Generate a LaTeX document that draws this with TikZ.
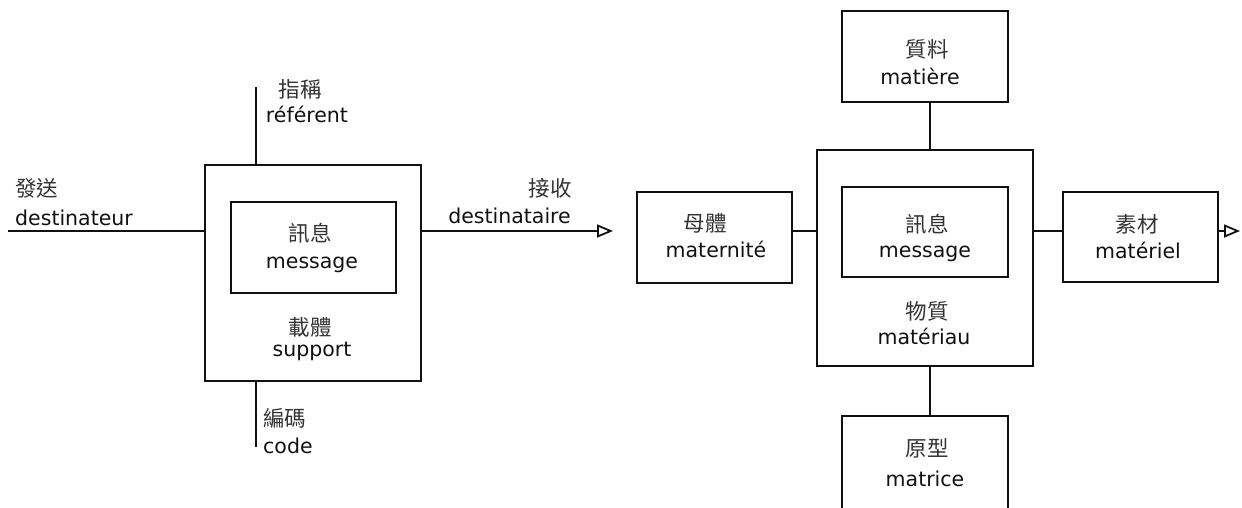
\documentclass[tikz,border=0pt]{standalone}
\usepackage{fontspec}
\setmainfont{DejaVu Sans}
\newfontfamily\cjk{Noto Sans CJK TC}
\usetikzlibrary{arrows.meta}
\definecolor{ink}{HTML}{111111}
\definecolor{cjkink}{HTML}{333333}
\tikzset{
  box/.style={draw=ink, line width=2.1pt, inner sep=0pt},
  conn/.style={draw=ink, line width=2.1pt},
  arr/.style={conn, -{Triangle[open, length=16pt, width=13pt, fill=white, line width=1.8pt]}},
  zh/.style={inner sep=0pt, font=\cjk\fontsize{21.5}{24}\selectfont, text=cjkink},
  fr/.style={inner sep=0pt, font=\fontsize{20.5}{24}\selectfont, text=ink, anchor=base},
}
\begin{document}
\begin{tikzpicture}[x=1pt,y=-1pt]
\useasboundingbox (0,0) rectangle (1242,508);
% boxes
\node[box, minimum width=216pt, minimum height=216pt] (support) at (313,273) {};
\node[box, minimum width=165pt, minimum height=91pt] (msg1) at (313.5,247.5) {};
\node[box, minimum width=155pt, minimum height=91pt] (maternite) at (714.5,237.5) {};
\node[box, minimum width=216pt, minimum height=216pt] (materiau) at (925,258) {};
\node[box, minimum width=166pt, minimum height=90pt] (msg2) at (925,232) {};
\node[box, minimum width=166pt, minimum height=91pt] (matiere) at (925,56.5) {};
\node[inner sep=0pt, minimum width=166pt, minimum height=110pt] (matrice) at (925,471) {};
\draw[conn] (matrice.south west) -- (matrice.north west) -- (matrice.north east) -- (matrice.south east);
\node[box, minimum width=155pt, minimum height=90pt] (materiel) at (1140.5,237) {};
% coordinates
\coordinate (src) at (8,231);
\coordinate (dst) at (613,231);
\coordinate (reftop) at (256,87);
\coordinate (codebot) at (256,447);
\coordinate (vx) at (930,0);
\coordinate (out2) at (1240,231);
% connectors
\draw[conn] (src) -- (src -| support.west);
\draw[arr] (src -| support.east) -- (dst);
\draw[conn] (reftop) -- (reftop |- support.north);
\draw[conn] (codebot) -- (codebot |- support.south);
\draw[conn] (maternite.east |- src) -- (materiau.west |- src);
\draw[conn] (materiau.east |- src) -- (materiel.west |- src);
\draw[arr] (materiel.east |- src) -- (out2);
\draw[conn] (matiere.south -| vx) -- (materiau.north -| vx);
\draw[conn] (materiau.south -| vx) -- (matrice.north -| vx);
% labels
\node[zh, anchor=west] (l1a) at (15,188) {發送};
\node[fr, anchor=base west] (l1b) at (15,225) {destinateur};
\node[zh, anchor=east] (l2a) at (572,188) {接收};
\node[fr, anchor=base east] (l2b) at (571,223) {destinataire};
\node[zh] (l3a) at (300,89) {指稱};
\node[fr] (l3b) at (307,123) {référent};
\node[zh, anchor=west] (l4a) at (263,418) {編碼};
\node[fr, anchor=base west] (l4b) at (263,453) {code};
\node[zh] (t1a) at (310,233) {訊息};
\node[fr] (t1b) at (312,268) {message};
\node[zh] (t2a) at (310,327) {載體};
\node[fr] (t2b) at (312,356) {support};
\node[zh] (t3a) at (705,223) {母體};
\node[fr] (t3b) at (716,257) {maternité};
\node[zh] (t4a) at (927,224) {訊息};
\node[fr] (t4b) at (925,257) {message};
\node[zh] (t5a) at (927,311) {物質};
\node[fr] (t5b) at (924,344) {matériau};
\node[zh] (t6a) at (927,49) {質料};
\node[fr] (t6b) at (920,85) {matière};
\node[zh] (t7a) at (927,448) {原型};
\node[fr] (t7b) at (925,486) {matrice};
\node[zh] (t8a) at (1137,224) {素材};
\node[fr] (t8b) at (1138,258) {matériel};
\end{tikzpicture}
\end{document}
